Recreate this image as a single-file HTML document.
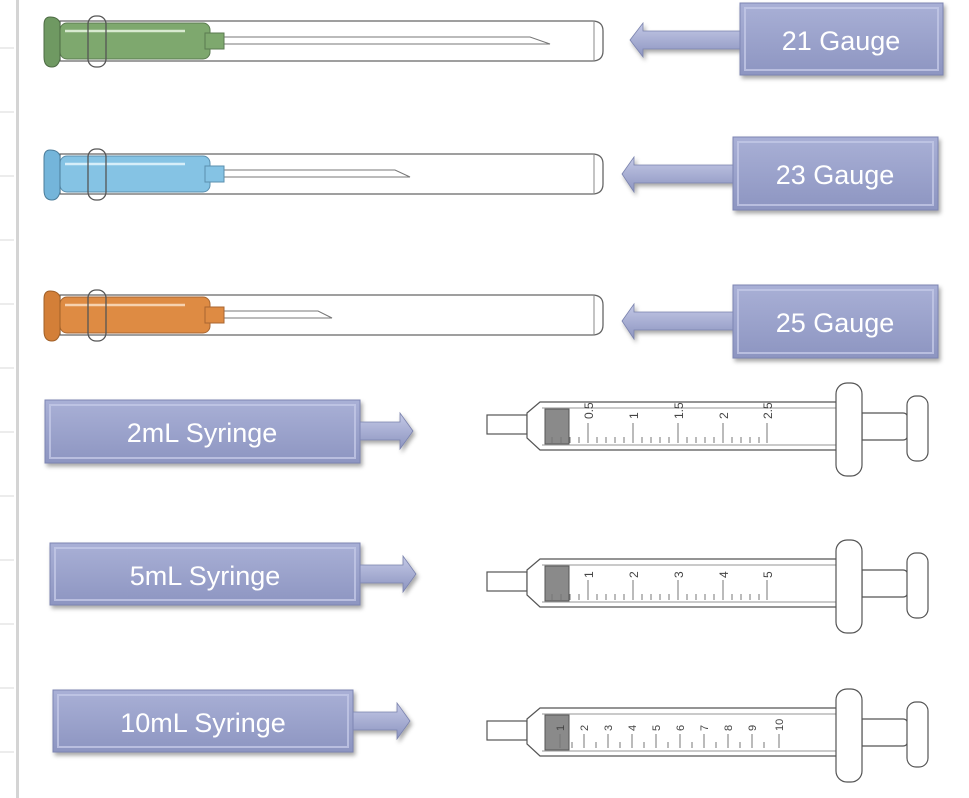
<!DOCTYPE html>
<html><head><meta charset="utf-8"><style>
html,body{margin:0;padding:0;background:#fff;}
svg{display:block}
text{font-family:"Liberation Sans",sans-serif;}
</style></head><body>
<svg width="969" height="798" viewBox="0 0 969 798" xmlns="http://www.w3.org/2000/svg">
<defs>
<linearGradient id="bx" x1="0" y1="0" x2="0" y2="1"><stop offset="0" stop-color="#a9b0d6"/><stop offset="1" stop-color="#8d95c1"/></linearGradient>
<linearGradient id="ar" x1="0" y1="0" x2="0" y2="1"><stop offset="0" stop-color="#c4c9e6"/><stop offset="1" stop-color="#8c94c0"/></linearGradient>
<filter id="sh" x="-10%" y="-10%" width="130%" height="140%"><feDropShadow dx="2" dy="3" stdDeviation="2" flood-color="#000" flood-opacity="0.35"/></filter>
</defs>
<!-- left gridlines -->
<rect x="16" y="0" width="3" height="798" fill="#d4d4d4"/>
<g stroke="#d8d8d8" stroke-width="1">
<line x1="0" y1="48" x2="14" y2="48"/><line x1="0" y1="112" x2="14" y2="112"/><line x1="0" y1="176" x2="14" y2="176"/><line x1="0" y1="240" x2="14" y2="240"/><line x1="0" y1="304" x2="14" y2="304"/><line x1="0" y1="368" x2="14" y2="368"/><line x1="0" y1="432" x2="14" y2="432"/><line x1="0" y1="496" x2="14" y2="496"/><line x1="0" y1="560" x2="14" y2="560"/><line x1="0" y1="624" x2="14" y2="624"/><line x1="0" y1="688" x2="14" y2="688"/><line x1="0" y1="752" x2="14" y2="752"/>
</g>

<!-- needles -->
<g id="n1" transform="translate(0,41)">
<path d="M60 -20 H592 Q603 -20 603 -10 V10 Q603 20 592 20 H60 Z" fill="#fff" stroke="#666" stroke-width="1.3"/>
<line x1="594" y1="-19" x2="594" y2="19" stroke="#888"/>
<path d="M223 -4 H530 L550 3 H223 Z" fill="#fff" stroke="#777"/>
<rect x="60" y="-18" width="150" height="36" rx="7" fill="#7ea86e" stroke="#5b7a50"/>
<rect x="205" y="-8" width="19" height="16" fill="#7ea86e" stroke="#5b7a50"/>
<path d="M50 -24 Q44 -24 44 -16 V16 Q44 26 52 26 Q58 26 60 18 V-18 Q58 -24 50 -24 Z" fill="#6f9962" stroke="#4d6b44"/>
<line x1="65" y1="-10" x2="185" y2="-10" stroke="#d8ead0" stroke-width="2.5"/>
<rect x="88" y="-25" width="18" height="51" rx="8" fill="none" stroke="#555" stroke-width="1.3"/>
</g>
<g transform="translate(0,174)">
<path d="M60 -20 H592 Q603 -20 603 -10 V10 Q603 20 592 20 H60 Z" fill="#fff" stroke="#666" stroke-width="1.3"/>
<line x1="594" y1="-19" x2="594" y2="19" stroke="#888"/>
<path d="M223 -4 H395 L410 3 H223 Z" fill="#fff" stroke="#777"/>
<rect x="60" y="-18" width="150" height="36" rx="7" fill="#85c3e4" stroke="#5a8fae"/>
<rect x="205" y="-8" width="19" height="16" fill="#85c3e4" stroke="#5a8fae"/>
<path d="M50 -24 Q44 -24 44 -16 V16 Q44 26 52 26 Q58 26 60 18 V-18 Q58 -24 50 -24 Z" fill="#74b5da" stroke="#4c7d9a"/>
<line x1="65" y1="-10" x2="185" y2="-10" stroke="#d6eef9" stroke-width="2.5"/>
<rect x="88" y="-25" width="18" height="51" rx="8" fill="none" stroke="#555" stroke-width="1.3"/>
</g>
<g transform="translate(0,315)">
<path d="M60 -20 H592 Q603 -20 603 -10 V10 Q603 20 592 20 H60 Z" fill="#fff" stroke="#666" stroke-width="1.3"/>
<line x1="594" y1="-19" x2="594" y2="19" stroke="#888"/>
<path d="M223 -4 H318 L332 3 H223 Z" fill="#fff" stroke="#777"/>
<rect x="60" y="-18" width="150" height="36" rx="7" fill="#de8b43" stroke="#a86630"/>
<rect x="205" y="-8" width="19" height="16" fill="#de8b43" stroke="#a86630"/>
<path d="M50 -24 Q44 -24 44 -16 V16 Q44 26 52 26 Q58 26 60 18 V-18 Q58 -24 50 -24 Z" fill="#d37f38" stroke="#a06028"/>
<line x1="65" y1="-10" x2="185" y2="-10" stroke="#f6d2b0" stroke-width="2.5"/>
<rect x="88" y="-25" width="18" height="51" rx="8" fill="none" stroke="#555" stroke-width="1.3"/>
</g>

<!-- gauge labels with left arrows -->
<g filter="url(#sh)">
<path d="M630 40 L643 23 V31 H745 V49 H643 V57 Z" fill="url(#ar)" stroke="#7a82ad" stroke-width="0.8"/>
<rect x="740" y="3" width="203" height="72" fill="url(#bx)" stroke="#7d85b3"/>
<path d="M622 174 L634 157 V165 H738 V183 H634 V192 Z" fill="url(#ar)" stroke="#7a82ad" stroke-width="0.8"/>
<rect x="733" y="137" width="205" height="73" fill="url(#bx)" stroke="#7d85b3"/>
<path d="M622 321 L634 304 V312 H738 V330 H634 V339 Z" fill="url(#ar)" stroke="#7a82ad" stroke-width="0.8"/>
<rect x="733" y="285" width="205" height="73" fill="url(#bx)" stroke="#7d85b3"/>
</g>
<g fill="none" stroke="#c3c8e6" stroke-width="2" opacity="0.8">
<rect x="745" y="8" width="193" height="62"/><rect x="738" y="142" width="195" height="63"/><rect x="738" y="290" width="195" height="63"/>
</g>
<g fill="#fff" font-size="27" text-anchor="middle">
<text x="841" y="50">21 Gauge</text>
<text x="835" y="184">23 Gauge</text>
<text x="835" y="332">25 Gauge</text>
</g>

<!-- syringe labels with right arrows -->
<g filter="url(#sh)">
<path d="M355 422 H400 V413 L413 431 L400 449 V440 H355 Z" fill="url(#ar)" stroke="#7a82ad" stroke-width="0.8"/>
<rect x="45" y="400" width="315" height="63" fill="url(#bx)" stroke="#7d85b3"/>
<path d="M355 565 H403 V556 L416 574 L403 592 V583 H355 Z" fill="url(#ar)" stroke="#7a82ad" stroke-width="0.8"/>
<rect x="50" y="543" width="310" height="62" fill="url(#bx)" stroke="#7d85b3"/>
<path d="M348 712 H397 V703 L410 721 L397 739 V730 H348 Z" fill="url(#ar)" stroke="#7a82ad" stroke-width="0.8"/>
<rect x="53" y="690" width="300" height="62" fill="url(#bx)" stroke="#7d85b3"/>
</g>
<g fill="none" stroke="#c3c8e6" stroke-width="2" opacity="0.8">
<rect x="50" y="405" width="305" height="53"/><rect x="55" y="548" width="300" height="52"/><rect x="58" y="695" width="290" height="52"/>
</g>
<g fill="#fff" font-size="27" text-anchor="middle">
<text x="202" y="442">2mL Syringe</text>
<text x="205" y="585">5mL Syringe</text>
<text x="203" y="732">10mL Syringe</text>
</g>

<!-- syringes -->
<g id="syr" fill="#fff" stroke="#555" stroke-width="1.2">
<rect x="487" y="415" width="40" height="19"/>
<path d="M527 413 L540 402 H840 V450 H540 L527 438 Z"/>
<line x1="542" y1="408" x2="838" y2="408" stroke="#aaa"/>
<line x1="542" y1="445" x2="838" y2="445" stroke="#aaa"/>
<path d="M862 413 H903 Q908 413 908 420 V433 Q908 440 903 440 H862 Z"/>
<rect x="836" y="383" width="26" height="93" rx="11"/>
<rect x="907" y="396" width="21" height="65" rx="9"/>
</g>
<g transform="translate(0,157)">
<g fill="#fff" stroke="#555" stroke-width="1.2">
<rect x="487" y="415" width="40" height="19"/>
<path d="M527 413 L540 402 H840 V450 H540 L527 438 Z"/>
<line x1="542" y1="408" x2="838" y2="408" stroke="#aaa"/>
<line x1="542" y1="445" x2="838" y2="445" stroke="#aaa"/>
<path d="M862 413 H903 Q908 413 908 420 V433 Q908 440 903 440 H862 Z"/>
<rect x="836" y="383" width="26" height="93" rx="11"/>
<rect x="907" y="396" width="21" height="65" rx="9"/>
</g></g>
<g transform="translate(0,306)">
<g fill="#fff" stroke="#555" stroke-width="1.2">
<rect x="487" y="415" width="40" height="19"/>
<path d="M527 413 L540 402 H840 V450 H540 L527 438 Z"/>
<line x1="542" y1="408" x2="838" y2="408" stroke="#aaa"/>
<line x1="542" y1="445" x2="838" y2="445" stroke="#aaa"/>
<path d="M862 413 H903 Q908 413 908 420 V433 Q908 440 903 440 H862 Z"/>
<rect x="836" y="383" width="26" height="93" rx="11"/>
<rect x="907" y="396" width="21" height="65" rx="9"/>
</g></g>

<!-- plunger blocks -->
<rect x="545" y="409" width="24" height="35" fill="#8a8a8a" stroke="#555"/>
<rect x="545" y="566" width="24" height="35" fill="#8a8a8a" stroke="#555"/>
<rect x="545" y="715" width="24" height="35" fill="#8a8a8a" stroke="#555"/>

<!-- ticks 2mL -->
<g stroke="#777" stroke-width="1">
<path d="M552 443v-6M561 443v-6M570 443v-6M579 443v-6M588 443v-20M597 443v-6M606 443v-6M615 443v-6M624 443v-6M633 443v-20M642 443v-6M651 443v-6M660 443v-6M669 443v-6M678 443v-20M687 443v-6M696 443v-6M705 443v-6M714 443v-6M723 443v-20M732 443v-6M741 443v-6M750 443v-6M759 443v-6M767 443v-20"/>
<path transform="translate(0,157)" d="M552 443v-6M561 443v-6M570 443v-6M579 443v-6M588 443v-20M597 443v-6M606 443v-6M615 443v-6M624 443v-6M633 443v-20M642 443v-6M651 443v-6M660 443v-6M669 443v-6M678 443v-20M687 443v-6M696 443v-6M705 443v-6M714 443v-6M723 443v-20M732 443v-6M741 443v-6M750 443v-6M759 443v-6M767 443v-20"/>
<path d="M560 748v-14M572 748v-6M584 748v-14M596 748v-6M608 748v-14M620 748v-6M632 748v-14M644 748v-6M656 748v-14M668 748v-6M680 748v-14M692 748v-6M704 748v-14M716 748v-6M728 748v-14M740 748v-6M752 748v-14M764 748v-6M779 748v-14"/>
</g>
<g fill="#444" font-size="12">
<text transform="translate(593,419) rotate(-90)">0.5</text>
<text transform="translate(638,419) rotate(-90)">1</text>
<text transform="translate(683,419) rotate(-90)">1.5</text>
<text transform="translate(728,419) rotate(-90)">2</text>
<text transform="translate(772,419) rotate(-90)">2.5</text>
<text transform="translate(593,578) rotate(-90)">1</text>
<text transform="translate(638,578) rotate(-90)">2</text>
<text transform="translate(683,578) rotate(-90)">3</text>
<text transform="translate(728,578) rotate(-90)">4</text>
<text transform="translate(772,578) rotate(-90)">5</text>
</g>
<g fill="#444" font-size="11">
<text transform="translate(564,731) rotate(-90)">1</text>
<text transform="translate(588,731) rotate(-90)">2</text>
<text transform="translate(612,731) rotate(-90)">3</text>
<text transform="translate(636,731) rotate(-90)">4</text>
<text transform="translate(660,731) rotate(-90)">5</text>
<text transform="translate(684,731) rotate(-90)">6</text>
<text transform="translate(708,731) rotate(-90)">7</text>
<text transform="translate(732,731) rotate(-90)">8</text>
<text transform="translate(756,731) rotate(-90)">9</text>
<text transform="translate(783,731) rotate(-90)">10</text>
</g>
</svg>
</body></html>
